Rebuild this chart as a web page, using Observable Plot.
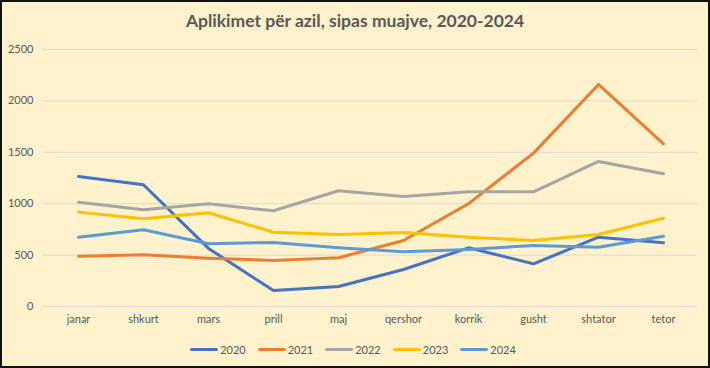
<!DOCTYPE html>
<html><head><meta charset="utf-8">
<script src="https://cdn.jsdelivr.net/npm/d3@7"></script>
<script src="https://cdn.jsdelivr.net/npm/@observablehq/plot@0.6"></script>
<style>
html,body{margin:0;padding:0;background:#fff;}
#wrap{width:710px;height:368px;box-sizing:border-box;border:2px solid #111;background:#FFF2CC;font-family:Lato,"Open Sans",sans-serif;overflow:hidden;}
#title{height:36px;line-height:38px;text-align:center;font-weight:bold;font-size:17.5px;color:#595959;}
#legend{height:30px;display:flex;justify-content:center;align-items:center;gap:12px;font-size:11px;color:#595959;padding-right:4px;}
.item{display:flex;align-items:center;gap:2px;}
.sw{width:28px;height:3px;border-radius:2px;}
</style></head>
<body>
<div id="wrap">
<div id="title">Aplikimet për azil, sipas muajve, 2020-2024</div>
<div id="chart"></div>
<div id="legend"></div>
</div>
<script>
const months = ["janar","shkurt","mars","prill","maj","qershor","korrik","gusht","shtator","tetor"];
const years = ["2020","2021","2022","2023","2024"];
const colors = ["#4472C4","#ED7D31","#A5A5A5","#FFC000","#5B9BD5"];
const v2020 = [1265,1184,565,155,195,360,571,415,674,620];
const v2021 = [490,503,470,448,474,642,999,1492,2160,1583];
const v2022 = [1015,941,999,931,1126,1070,1116,1116,1411,1291];
const v2023 = [918,853,912,723,700,720,674,642,700,859];
const v2024 = [674,746,610,623,571,532,555,594,577,684];
const yTicks = [0,500,1000,1500,2000,2500];

const series = [v2020,v2021,v2022,v2023,v2024];
const rows = [];
years.forEach((y,i)=>months.forEach((m,j)=>rows.push({year:y, month:m, value:series[i][j]})));

const chart = Plot.plot({
  width:706, height:296,
  marginTop:11, marginBottom:28, marginLeft:41, marginRight:11,
  style:{background:"transparent", fontFamily:"Lato, 'Open Sans', sans-serif", fontSize:"11px", color:"#595959"},
  x:{type:"point", domain:months, padding:0.5, label:null},
  y:{domain:[0,2500], label:null},
  color:{domain:years, range:colors},
  marks:[
    Plot.gridY(yTicks,{stroke:"#D9D9D9", strokeOpacity:1, strokeWidth:1}),
    Plot.axisY(yTicks,{tickSize:0, tickPadding:10, label:null, fill:"#595959", tickFormat:d=>String(d)}),
    Plot.axisX({tickSize:0, tickPadding:9, label:null, fill:"#595959"}),
    Plot.lineY(rows,{x:"month", y:"value", stroke:"year", z:"year", strokeWidth:3, strokeLinejoin:"round", strokeLinecap:"round"})
  ]
});
document.getElementById("chart").appendChild(chart);

const lg = document.getElementById("legend");
years.forEach((y,i)=>{
  const it = document.createElement("div"); it.className="item";
  const sw = document.createElement("div"); sw.className="sw"; sw.style.background=colors[i];
  const t = document.createElement("span"); t.textContent=y;
  it.appendChild(sw); it.appendChild(t); lg.appendChild(it);
});
</script>
</body></html>
